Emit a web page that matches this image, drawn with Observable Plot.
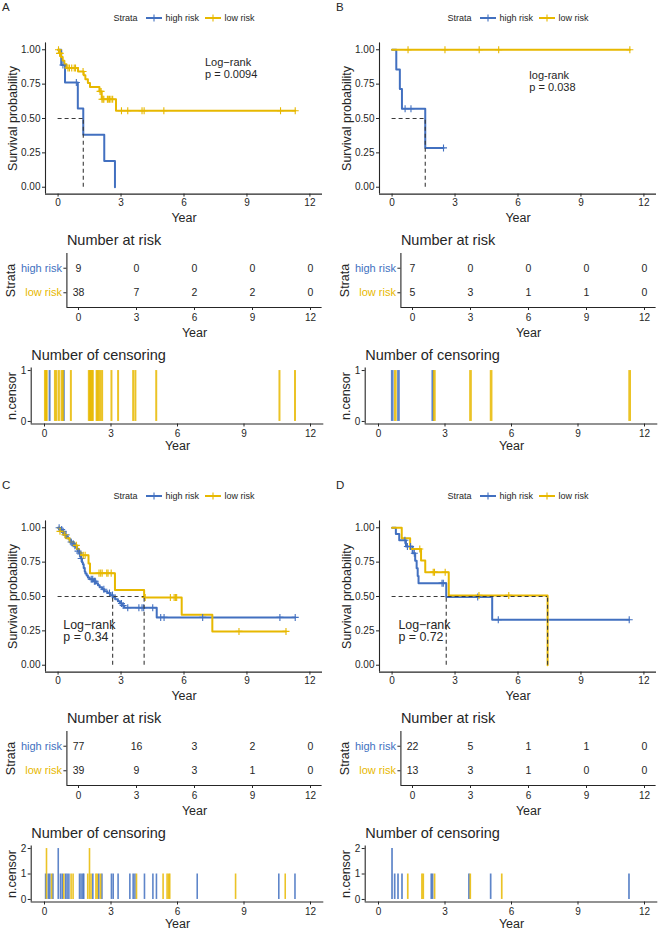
<!DOCTYPE html>
<html>
<head>
<meta charset="utf-8">
<script src="https://cdn.jsdelivr.net/npm/d3@7"></script>
<script src="https://cdn.jsdelivr.net/npm/@observablehq/plot@0.6"></script>
<style>
  html, body { margin: 0; padding: 0; background: #fff; overflow: hidden; }
  #page { position: relative; width: 658px; height: 930px; font-family: "Liberation Sans", Arial, sans-serif; color: #262626; }
  #page > * { position: absolute; }
  .letter { font-size: 11.5px; line-height: 12px; }
  .legend { display: flex; align-items: center; font-size: 9px; line-height: 12px; height: 12px; white-space: nowrap; }
  .legend svg { display: block; }
</style>
</head>
<body>
<div id="page"></div>
<script>
// Shared categories and axis ticks
const years = [0, 3, 6, 9, 12];
const strata = ["high risk", "low risk"];
const strataColors = ["#4270C0", "#E7B800"];

// Panel A: Kaplan–Meier steps (time, survival), censoring times, number at risk
const aHighTime = [0, 0.15, 0.33, 0.94, 1.2, 2.2, 2.71];
const aHighSurv = [1, 0.889, 0.762, 0.572, 0.381, 0.19, 0];
const aHighCens = [0.23, 0.87];
const aHighRisk = [9, 0, 0, 0, 0];
const aLowTime = [0, 0.06, 0.14, 0.22, 0.3, 0.4, 0.95, 1.22, 1.3, 1.42, 1.52, 1.97, 2.08, 2.76];
const aLowSurv = [1, 0.974, 0.947, 0.921, 0.895, 0.868, 0.842, 0.815, 0.786, 0.758, 0.729, 0.697, 0.64, 0.556];
const aLowCens = [0.02, 0.07, 0.1, 0.47, 0.54, 0.65, 0.77, 0.83, 1.19, 2.0, 2.05, 2.09, 2.14, 2.18, 2.35, 2.39, 2.45, 2.52, 2.6, 3.02, 3.32, 4.0, 4.1, 5.04, 10.6, 11.3];
const aLowRisk = [38, 7, 2, 2, 0];
const aTest = "Log−rank\np = 0.0094";

// Panel B
const bHighTime = [0, 0.2, 0.37, 0.47, 1.58];
const bHighSurv = [1, 0.857, 0.714, 0.571, 0.286];
const bHighCens = [0.62, 0.9, 2.45];
const bHighRisk = [7, 0, 0, 0, 0];
const bLowTime = [0];
const bLowSurv = [1];
const bLowCens = [0.76, 2.52, 4.15, 5.08, 11.33];
const bLowRisk = [5, 3, 1, 1, 0];
const bTest = "log-rank\np = 0.038";

// Panel C
const cHighTime = [0, 0.08, 0.18, 0.25, 0.33, 0.41, 0.47, 0.55, 0.62, 0.7, 0.78, 0.84, 0.9, 0.95, 1.0, 1.05, 1.1, 1.14, 1.18, 1.22, 1.27, 1.3, 1.36, 1.42, 1.5, 1.68, 1.8, 1.9, 1.98, 2.1, 2.2, 2.35, 2.48, 2.6, 2.72, 2.85, 2.95, 3.05, 3.15, 4.7];
const cHighSurv = [1, 0.987, 0.974, 0.961, 0.948, 0.935, 0.922, 0.909, 0.896, 0.883, 0.87, 0.856, 0.843, 0.83, 0.816, 0.79, 0.776, 0.749, 0.735, 0.708, 0.681, 0.667, 0.653, 0.639, 0.625, 0.611, 0.597, 0.582, 0.567, 0.553, 0.539, 0.525, 0.51, 0.495, 0.48, 0.465, 0.449, 0.434, 0.418, 0.348];
const cHighCens = [0.05, 0.17, 0.24, 0.38, 0.62, 0.62, 0.72, 0.8, 0.95, 1.02, 1.1, 1.58, 1.65, 1.73, 1.77, 2.18, 2.45, 2.59, 3.02, 3.1, 3.32, 3.85, 4.0, 4.08, 4.51, 4.89, 5.05, 6.89, 10.57, 11.3];
const cHighRisk = [77, 16, 3, 2, 0];
const cLowTime = [0, 0.09, 0.25, 0.38, 0.55, 0.75, 0.9, 1.0, 1.1, 1.45, 1.52, 2.71, 4.1, 5.89, 7.35];
const cLowSurv = [1, 0.974, 0.949, 0.923, 0.897, 0.872, 0.846, 0.82, 0.8, 0.74, 0.67, 0.548, 0.493, 0.367, 0.246];
const cLowCens = [0.09, 0.09, 0.32, 0.87, 1.2, 1.29, 1.95, 2.03, 2.03, 2.1, 2.32, 2.38, 2.53, 4.15, 5.35, 5.53, 5.6, 5.65, 8.62, 10.86];
const cLowRisk = [39, 9, 3, 1, 0];
const cTest = "Log−rank\np = 0.34";

// Panel D
const dHighTime = [0, 0.18, 0.34, 0.66, 0.98, 1.1, 1.17, 1.22, 1.26, 2.58, 4.77];
const dHighSurv = [1, 0.955, 0.909, 0.864, 0.815, 0.76, 0.705, 0.65, 0.597, 0.497, 0.331];
const dHighCens = [0.61, 0.61, 0.73, 0.88, 1.06, 2.38, 2.44, 4.08, 5.06, 11.3];
const dHighRisk = [22, 5, 1, 1, 0];
const dLowTime = [0, 0.46, 0.86, 1.38, 1.58, 2.7, 7.41];
const dLowSurv = [1, 0.923, 0.846, 0.761, 0.677, 0.508, 0];
const dLowCens = [1.32, 1.96, 2.02, 2.53, 4.14, 5.56];
const dLowRisk = [13, 3, 1, 0, 0];
const dTest = "Log−rank\np = 0.72";

const FONT = '"Liberation Sans", Arial, sans-serif';
const INK = "#262626";
const X_DOMAIN = [-0.6, 12.6];
const color = {domain: strata, range: strataColors};
const axisLine = {stroke: INK, strokeWidth: 1.1};
const baseStyle = {fontFamily: FONT, fontSize: "10px", color: INK, background: "none"};

function group(name, time, surv, cens, risk) { return {name, time, surv, cens, risk}; }

const panels = [
  {letter: "A", left: 0, top: 0,
   groups: [group("high risk", aHighTime, aHighSurv, aHighCens, aHighRisk), group("low risk", aLowTime, aLowSurv, aLowCens, aLowRisk)],
   test: aTest, testX: 7.0, testY: 0.95, testSize: 11, testLead: 1.15, barWidth: 2},
  {letter: "B", left: 334, top: 0,
   groups: [group("high risk", bHighTime, bHighSurv, bHighCens, bHighRisk), group("low risk", bLowTime, bLowSurv, bLowCens, bLowRisk)],
   test: bTest, testX: 6.54, testY: 0.855, testSize: 11, testLead: 1.15, barWidth: 2.7},
  {letter: "C", left: 0, top: 478,
   groups: [group("high risk", cHighTime, cHighSurv, cHighCens, cHighRisk), group("low risk", cLowTime, cLowSurv, cLowCens, cLowRisk)],
   test: cTest, testX: 0.25, testY: 0.33, testSize: 12.4, testLead: 1.0, barWidth: 1.6},
  {letter: "D", left: 334, top: 478,
   groups: [group("high risk", dHighTime, dHighSurv, dHighCens, dHighRisk), group("low risk", dLowTime, dLowSurv, dLowCens, dLowRisk)],
   test: dTest, testX: 0.3, testY: 0.33, testSize: 12.4, testLead: 1.0, barWidth: 1.7}
];

function survAt(g, t) {
  let s = 1;
  g.time.forEach((ti, i) => { if (ti <= t) s = g.surv[i]; });
  return s;
}

function survivalPlot(p) {
  const path = [], ticks = [], medians = [];
  for (const g of p.groups) {
    g.time.forEach((t, i) => path.push({name: g.name, t, s: g.surv[i]}));
    const last = g.time.length - 1;
    const tEnd = d3.max(g.cens);
    if (tEnd > g.time[last]) path.push({name: g.name, t: tEnd, s: g.surv[last]});
    for (const t of new Set(g.cens)) ticks.push({name: g.name, t, s: survAt(g, t)});
    const i = g.surv.findIndex(s => s <= 0.5);
    if (i >= 0) medians.push(g.time[i]);
  }
  const dash = {stroke: "#3a3a3a", strokeWidth: 1.1, strokeDasharray: "4,3"};
  return Plot.plot({
    width: 324, height: 200,
    marginLeft: 45, marginRight: 2, marginTop: 14.4, marginBottom: 34.4,
    style: baseStyle,
    x: {domain: X_DOMAIN}, y: {domain: [-0.05, 1.05]}, color,
    marks: [
      Plot.line(path, {x: "t", y: "s", z: "name", stroke: "name", curve: "step-after", strokeWidth: 2}),
      Plot.dot(ticks, {x: "t", y: "s", stroke: "name", symbol: "plus", r: 2.4, strokeWidth: 1.1}),
      ...(medians.length ? [
        Plot.ruleY([0.5], {x1: 0, x2: d3.max(medians), ...dash}),
        Plot.ruleX(medians, {x: d => d, y1: 0, y2: 0.5, ...dash})
      ] : []),
      Plot.text([p.test], {x: p.testX, y: p.testY, text: d => d, textAnchor: "start", lineAnchor: "top",
        fontSize: p.testSize, lineHeight: p.testLead, fill: INK}),
      Plot.ruleX([X_DOMAIN[0]], axisLine),
      Plot.ruleY([-0.05], axisLine),
      Plot.axisX({ticks: years, tickSize: 3, tickPadding: 1.5, fontSize: 10, label: null}),
      Plot.axisY({ticks: [0, 0.25, 0.5, 0.75, 1], tickFormat: ".2f", tickSize: 3, tickPadding: 2, fontSize: 10, label: null}),
      Plot.text(["Year"], {frameAnchor: "bottom", dy: 23.5, lineAnchor: "middle", textAnchor: "middle", fontSize: 12.5, fill: INK}),
      Plot.text(["Survival probability"], {frameAnchor: "left", dx: -33, rotate: -90, textAnchor: "middle", lineAnchor: "middle", fontSize: 12.5, fill: INK})
    ]
  });
}

function riskPlot(p) {
  const cells = [];
  p.groups.forEach((g, k) => g.risk.forEach((n, j) => cells.push({name: g.name, row: 2 - k, year: years[j], n})));
  const rows = p.groups.map((g, k) => ({name: g.name, row: 2 - k}));
  return Plot.plot({
    width: 324, height: 110,
    marginLeft: 66.4, marginRight: 2.4, marginTop: 25, marginBottom: 31,
    style: baseStyle,
    x: {domain: X_DOMAIN}, y: {domain: [0.4, 2.6]}, color,
    marks: [
      Plot.text(cells, {x: "year", y: "row", text: d => String(d.n), fontSize: 10.5, fill: INK}),
      Plot.text(rows, {frameAnchor: "left", y: "row", text: "name", fill: "name", dx: -5, textAnchor: "end", lineAnchor: "middle", fontSize: 11}),
      Plot.ruleX([X_DOMAIN[0]], axisLine),
      Plot.ruleY([0.4], axisLine),
      Plot.axisY({ticks: [1, 2], tickFormat: () => "", tickSize: 3, label: null}),
      Plot.axisX({ticks: years, tickSize: 3, tickPadding: 3, fontSize: 10, label: null}),
      Plot.text(["Number at risk"], {frameAnchor: "top-left", dy: -13, textAnchor: "start", lineAnchor: "middle", fontSize: 14.5, fill: INK}),
      Plot.text(["Year"], {frameAnchor: "bottom", dy: 25, lineAnchor: "middle", textAnchor: "middle", fontSize: 12.5, fill: INK}),
      Plot.text(["Strata"], {frameAnchor: "left", dx: -56.4, rotate: -90, textAnchor: "middle", lineAnchor: "middle", fontSize: 12.5, fill: INK})
    ]
  });
}

function censorPlot(p) {
  const bars = [];
  for (const g of p.groups) {
    for (const [t, n] of d3.rollups(g.cens, v => v.length, d => d)) bars.push({name: g.name, t, n});
  }
  const top = d3.max(bars, d => d.n);
  return Plot.plot({
    width: 324, height: 114,
    marginLeft: 30.7, marginRight: 0.7, marginTop: 29.5, marginBottom: 28.5,
    style: baseStyle,
    x: {domain: X_DOMAIN}, y: {domain: [-0.05 * top, 1.05 * top]}, color,
    marks: [
      Plot.ruleX(bars, {x: "t", y1: 0, y2: "n", stroke: "name", strokeWidth: p.barWidth, strokeOpacity: 0.85}),
      Plot.ruleX([X_DOMAIN[0]], axisLine),
      Plot.ruleY([-0.05 * top], axisLine),
      Plot.axisX({ticks: years, tickSize: 3, tickPadding: 3, fontSize: 10, label: null}),
      Plot.axisY({ticks: d3.range(top + 1), tickFormat: "d", tickSize: 3, tickPadding: 2, fontSize: 10, label: null}),
      Plot.text(["Number of censoring"], {frameAnchor: "top-left", dy: -12.5, textAnchor: "start", lineAnchor: "middle", fontSize: 14.5, fill: INK}),
      Plot.text(["Year"], {frameAnchor: "bottom", dy: 21.5, lineAnchor: "middle", textAnchor: "middle", fontSize: 12.5, fill: INK}),
      Plot.text(["n.censor"], {frameAnchor: "left", dx: -19.5, rotate: -90, textAnchor: "middle", lineAnchor: "middle", fontSize: 12.5, fill: INK})
    ]
  });
}

function legend(p) {
  const div = document.createElement("div");
  div.className = "legend";
  const keys = p.groups.map((g, k) => {
    const c = strataColors[k];
    return `<svg width="16" height="10"><line x1="0" x2="16" y1="5" y2="5" stroke="${c}" stroke-width="2"/>` +
      `<path d="M8,1.6V8.4M4.6,5H11.4" stroke="${c}" stroke-width="1.1" fill="none"/></svg>` +
      `<span style="margin:0 5.5px 0 4px">${g.name}</span>`;
  }).join("");
  div.innerHTML = `<span style="margin-right:8px">Strata</span>` + keys;
  return div;
}

const page = document.getElementById("page");
function place(node, left, top) {
  node.style.left = left + "px";
  node.style.top = top + "px";
  page.appendChild(node);
}

for (const p of panels) {
  const letter = document.createElement("div");
  letter.className = "letter";
  letter.textContent = p.letter;
  place(letter, p.left + 2, p.top + 1);
  place(legend(p), p.left + 113.5, p.top + 12);
  place(survivalPlot(p), p.left, p.top + 28);
  place(riskPlot(p), p.left, p.top + 228);
  place(censorPlot(p), p.left, p.top + 338);
}
</script>
</body>
</html>
